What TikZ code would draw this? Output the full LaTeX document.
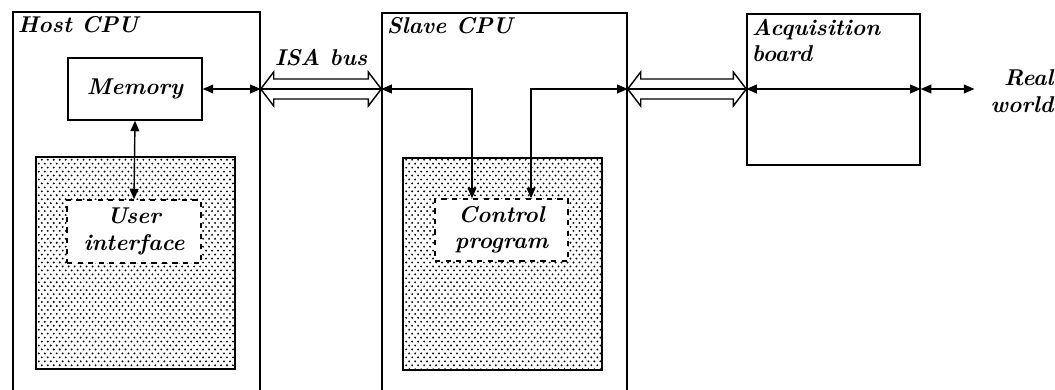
\documentclass[tikz,border=0pt]{standalone}
\usetikzlibrary{positioning, arrows.meta, calc, patterns, fit}

% Punteado de las zonas de software
\pgfdeclarepatternformonly{stipple dots}{\pgfqpoint{-1pt}{-1pt}}{\pgfqpoint{4.4pt}{5.5pt}}{\pgfqpoint{3.4pt}{4.5pt}}{
	\pgfpathcircle{\pgfqpoint{0pt}{0pt}}{0.6pt}
	\pgfpathcircle{\pgfqpoint{1.7pt}{2.25pt}}{0.6pt}
	\pgfusepath{fill}
}

\begin{document}
\begin{tikzpicture}[x=0.02cm, y=-0.02cm, >={Triangle[length=6pt, width=5pt]},
		every node/.style={font=\fontsize{13}{15}\selectfont\bfseries\itshape},
		frame/.style={draw, thick, inner sep=0pt},
		stipple/.style={draw, line width=1.2pt, pattern=stipple dots, inner sep=0pt},
		task/.style={draw, dashed, thick, fill=white, inner sep=0pt, align=center},
		tag/.style={anchor=north west, align=left, inner sep=3pt},
		link/.style={<->, thick},
		bus/.style={draw, thick, fill=white}]
		
		% Margenes de la figura (los marcos se cortan abajo)
		\clip (0,0) rectangle (1055,389);
		
		% --- 1. MARCOS: HOST, ESCLAVO Y TARJETA ---
		\node[frame, fit={(13,12) (260,420)}] (host) {};
		\node[frame, fit={(382,13) (627,420)}] (slave) {};
		\node[frame, fit={(747,14) (920,165)}] (acq) {};
		\node[tag] at (host.north west) {Host CPU};
		\node[tag] at (slave.north west) {Slave CPU};
		\node[tag] at (acq.north west) {Acquisition\\board};
		
		% --- 2. BLOQUES INTERNOS ---
		\node[frame, minimum width=2.68cm, minimum height=1.24cm] (mem) at (135,89) {Memory};
		\node[stipple, fit={(36,157) (235,369)}] (hostzone) {};
		\node[stipple, fit={(403,158) (602,370)}] (slavezone) {};
		\node[task, minimum width=2.68cm, minimum height=1.26cm] (ui) at (134,231.5) {User\\interface};
		\node[task, minimum width=2.66cm, minimum height=1.24cm] (ctrl) at (501.5,230) {Control\\program};
		\node[align=right] (world) at (1022,91) {Real\\world};
		
		% Puntos de union sobre los bordes
		\coordinate (b1l) at (host.east |- mem.east);
		\coordinate (b1r) at (slave.west |- mem.east);
		\coordinate (b2l) at (slave.east |- mem.east);
		\coordinate (b2r) at (acq.west |- mem.east);
		\coordinate (a2) at (acq.east |- mem.east);
		
		% --- 3. BUSES (flechas huecas) ---
		\foreach \l/\r in {b1l/b1r, b2l/b2r}{
			\draw[bus] (\l) -- ++(13,-17) -- ++(0,7) -- ($(\r)+(-13,-10)$) -- ++(0,-7) -- (\r)
				-- ++(-13,17) -- ++(0,-7) -- ($(\l)+(13,10)$) -- ++(0,7) -- cycle;
			\draw[thick] (\l) -- (\r);
		}
		\node at ($(b1l)!0.5!(b1r)+(0,-31)$) {ISA bus};
		
		% --- 4. CONEXIONES ---
		\draw[link] (mem.east) -- (b1l);
		\draw[link] (mem.south) -- (ui.north);
		\draw[link] (b1r) -| ([xshift=-0.59cm]ctrl.north);
		\draw[link] ([xshift=0.59cm]ctrl.north) |- (b2l);
		\draw[link] (b2r) -- (a2);
		\draw[link, shorten >=0.2cm] (a2) -- (a2 -| world.west);
		
	\end{tikzpicture}
\end{document}
